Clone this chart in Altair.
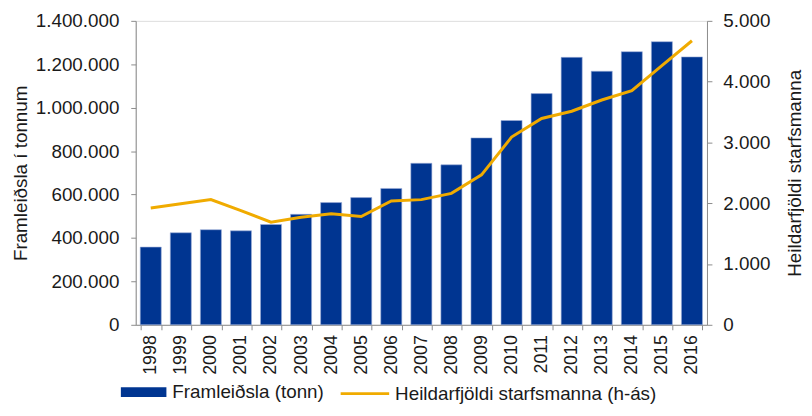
import altair as alt
import pandas as pd

years = [str(y) for y in range(1998, 2017)]
production = [358000, 424000, 438000, 433000, 462000, 509000, 563000, 586000, 628000, 744000,
              737000, 861000, 941000, 1065000, 1232000, 1168000, 1258000, 1304000, 1234000]
staff = [1923, 1990, 2059, 1880, 1688, 1770, 1825, 1781, 2037, 2059,
         2162, 2467, 3088, 3394, 3513, 3698, 3851, 4265, 4673]

bar_name = "Framleiðsla (tonn)"
line_name = "Heildarfjöldi starfsmanna (h-ás)"

df = pd.DataFrame({"year": years, "prod": production, "staff": staff,
                   "bar_s": bar_name, "line_s": line_name})

FONT = "Liberation Sans"
FS = 19
NAVY = "#003591"
GOLD = "#F0AB00"
GREY = "#8c8c8c"
TXT = "#1a1a1a"

fmt = "replace(format(datum.value, ','), /,/g, '.')"

x = alt.X("year:N", title=None,
          scale=alt.Scale(paddingInner=0.3, paddingOuter=0.15),
          axis=alt.Axis(labelAngle=270, labelFontSize=18, labelFont=FONT, labelColor=TXT,
                        tickBand="extent", tickSize=5, tickColor=GREY, domainColor=GREY,
                        labelPadding=5))

bars = alt.Chart(df).mark_bar(stroke="#9fb0d8", strokeWidth=0.6).encode(
    x=x,
    y=alt.Y("prod:Q", title="Framleiðsla í tonnum",
            scale=alt.Scale(domain=[0, 1400000], nice=False),
            axis=alt.Axis(values=list(range(0, 1400001, 200000)), labelExpr=fmt, grid=False,
                          labelFontSize=FS, labelFont=FONT, labelColor=TXT,
                          titleFontSize=FS, titleFont=FONT, titleColor=TXT, titleFontWeight="normal",
                          tickSize=5, tickColor=GREY, domainColor=GREY,
                          labelPadding=12, titlePadding=5)),
    fill=alt.Fill("bar_s:N", title=None,
                  scale=alt.Scale(domain=[bar_name], range=[NAVY]),
                  legend=alt.Legend(orient="none", legendX=-2, legendY=365,
                                    symbolType="M-2.3,-0.5H2.3V0.5H-2.3Z", symbolSize=400,
                                    symbolStrokeWidth=0, labelFontSize=FS, labelFont=FONT,
                                    labelColor=TXT, labelOffset=19, labelLimit=400)),
)

line = alt.Chart(df).mark_line(strokeWidth=3).encode(
    x=x,
    y=alt.Y("staff:Q", title="Heildarfjöldi starfsmanna",
            scale=alt.Scale(domain=[0, 5000], nice=False),
            axis=alt.Axis(orient="right", values=list(range(0, 5001, 1000)), labelExpr=fmt, grid=False,
                          labelFontSize=FS, labelFont=FONT, labelColor=TXT,
                          titleFontSize=FS, titleFont=FONT, titleColor=TXT, titleFontWeight="normal",
                          titleAngle=270, titleBaseline="top", tickSize=5, tickColor=GREY,
                          domainColor=GREY, labelPadding=11, titlePadding=16)),
    stroke=alt.Stroke("line_s:N", title=None,
                      scale=alt.Scale(domain=[line_name], range=[GOLD]),
                      legend=alt.Legend(orient="none", legendX=220, legendY=365,
                                        symbolType="M-2.45,0H2.45", symbolSize=400,
                                        symbolStrokeWidth=3, labelFontSize=FS, labelFont=FONT,
                                        labelColor=TXT, labelOffset=19, labelLimit=400)),
)

chart = alt.layer(bars, line).resolve_scale(y="independent").properties(
    width=577, height=307,
    autosize=alt.AutoSizeParams(type="none"),
    padding={"left": 129, "top": 11, "right": 98, "bottom": 78},
).configure_view(stroke=None).configure(background="white")

chart.save("out.html", embed_options={"renderer": "svg", "actions": False})
